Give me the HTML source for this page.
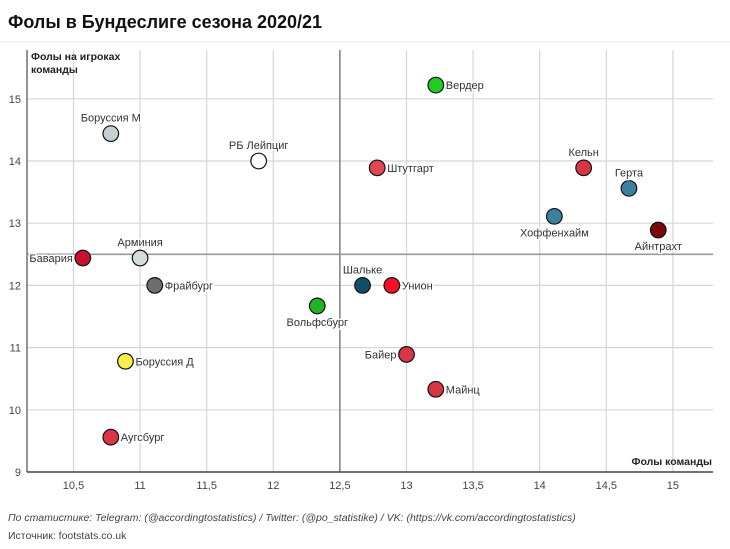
<!DOCTYPE html>
<html><head><meta charset="utf-8">
<style>
body{margin:0;background:#fff;font-family:"Liberation Sans",sans-serif;}
svg{display:block}
</style></head>
<body>
<svg id="chart" width="730" height="549">
<text x="8" y="28" font-size="18" font-weight="bold" fill="#111">Фолы в Бундеслиге сезона 2020/21</text>
<line x1="0" y1="42" x2="730" y2="42" stroke="#eee"/>
<g id="grid"></g>
<g id="refs"></g>
<g id="axes"></g>
<g id="marks"></g>
<text x="31" y="60" font-size="10.5" font-weight="bold" fill="#222">Фолы на игроках</text>
<text x="31" y="73" font-size="10.5" font-weight="bold" fill="#222">команды</text>
<text x="712" y="465" font-size="10.5" font-weight="bold" fill="#222" text-anchor="end">Фолы команды</text>
<text x="8" y="521" font-size="10.5" font-style="italic" fill="#444">По статистике: Telegram: (@accordingtostatistics) / Twitter: (@po_statistike) / VK: (https://vk.com/accordingtostatistics)</text>
<text x="8" y="539" font-size="10.5" fill="#444">Источник: footstats.co.uk</text>
</svg>
<script>
const teams=["Бавария","Арминия","Боруссия М","РБ Лейпциг","Фрайбург","Боруссия Д","Аугсбург","Вольфсбург","Шальке","Унион","Байер","Майнц","Штутгарт","Вердер","Кельн","Герта","Хоффенхайм","Айнтрахт"];
const teamFouls=[10.57,11.0,10.78,11.89,11.11,10.89,10.78,12.33,12.67,12.89,13.0,13.22,12.78,13.22,14.33,14.67,14.11,14.89];
const foulsOn=[12.44,12.44,14.44,14.0,12.0,10.78,9.56,11.67,12.0,12.0,10.89,10.33,13.89,15.22,13.89,13.56,13.11,12.89];
const colors=["#c8102e","#d5dcdc","#c5d0d2","#ffffff","#6b6f70","#f7f04a","#dc3545","#21b521","#0f4f6b","#f5102a","#d83545","#d83545","#e34655","#22cc22","#d83545","#3d7f9e","#3d7f9e","#7a0a0a"];
const labelPos=["left","top","top","top","right","right","right","bottom","top","right","left","right","right","right","top","top","bottom","bottom"];
const xTicks=[10.5,11,11.5,12,12.5,13,13.5,14,14.5,15];
const xTickLabels=["10,5","11","11,5","12","12,5","13","13,5","14","14,5","15"];
const yTicks=[9,10,11,12,13,14,15];
const yTickLabels=["9","10","11","12","13","14","15"];
const refX=12.5, refY=12.5;

const NS="http://www.w3.org/2000/svg";
const L=27,R=713,T=50,B=472;
const X=v=>73.5+(v-10.5)*133.2;
const Y=v=>472-(v-9)*62.2;
function mk(tag,attrs,parent,txt){const e=document.createElementNS(NS,tag);for(const k in attrs)e.setAttribute(k,attrs[k]);if(txt!==undefined)e.textContent=txt;document.getElementById(parent).appendChild(e);return e;}

xTicks.forEach((t,i)=>{
  const g=mk("line",{x1:X(t),x2:X(t),y1:T,y2:B,stroke:"#d6d6d6","stroke-width":1.2},"grid");
  
  
  const l=mk("text",{x:X(t),y:B+17,"font-size":11,fill:"#444","text-anchor":"middle"},"axes",xTickLabels[i]);
  
  
});
yTicks.forEach((t,i)=>{
  if(t>9){const g=mk("line",{x1:L,x2:R,y1:Y(t),y2:Y(t),stroke:"#d6d6d6","stroke-width":1.2},"grid");
  
  }
  const l=mk("text",{x:L-6,y:Y(t)+4,"font-size":11,fill:"#444","text-anchor":"end"},"axes",yTickLabels[i]);
  
  
});
const rv=mk("line",{x1:X(refX),x2:X(refX),y1:T,y2:B,stroke:"#777","stroke-width":1.4},"refs");


const rh=mk("line",{x1:L,x2:R,y1:Y(refY),y2:Y(refY),stroke:"#999","stroke-width":1.6},"refs");


const ax=mk("line",{x1:L,x2:L,y1:T,y2:B,stroke:"#666","stroke-width":1.4},"axes");


const ay=mk("line",{x1:L,x2:R,y1:B,y2:B,stroke:"#444","stroke-width":1.4},"axes");



teams.forEach((n,i)=>{
  const cx=X(teamFouls[i]),cy=Y(foulsOn[i]);
  const c=mk("circle",{cx:cx,cy:cy,r:7.8,fill:colors[i],stroke:"#111","stroke-width":1.2},"marks");
  
  
  let tx=cx,ty=cy+4,anc="middle";
  const p=labelPos[i];
  if(p==="left"){tx=cx-10;anc="end";}
  else if(p==="right"){tx=cx+10;anc="start";}
  else if(p==="top"){ty=cy-12;}
  else {ty=cy+20;}
  const t=mk("text",{x:tx,y:ty,"font-size":11,fill:"#333","text-anchor":anc,stroke:"#fff","stroke-width":3,"paint-order":"stroke"},"marks",n);
  
  
});
</script>
</body></html>
